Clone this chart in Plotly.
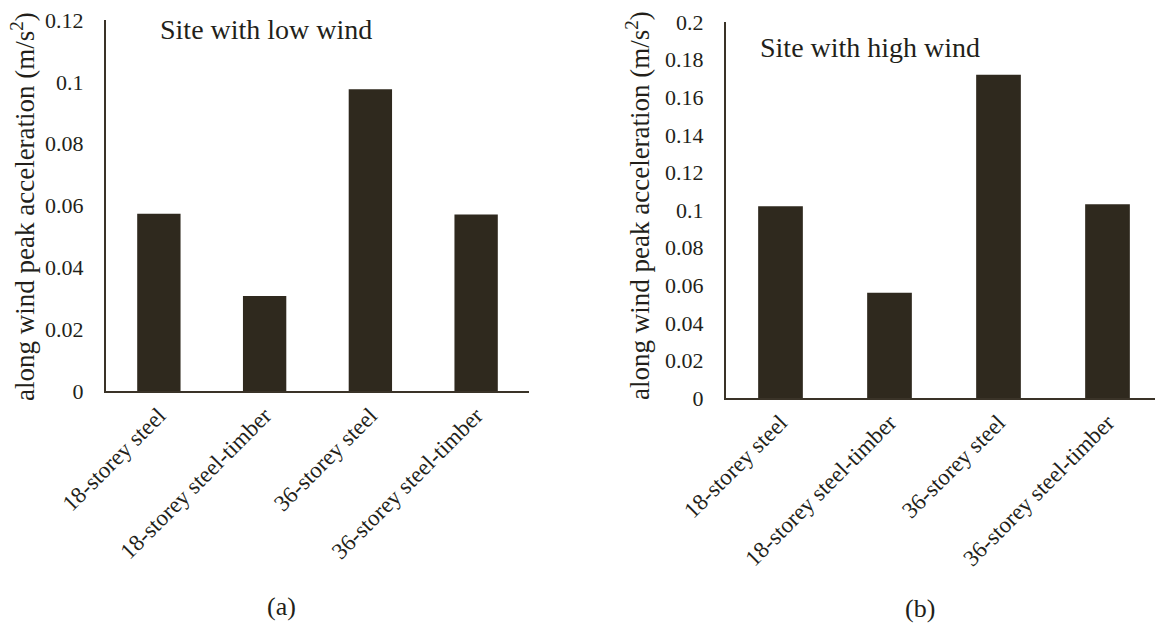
import plotly.graph_objects as go

categories = ["18-storey steel", "18-storey steel-timber", "36-storey steel", "36-storey steel-timber"]
low_wind = [0.0573, 0.0307, 0.0976, 0.0571]
high_wind = [0.102, 0.056, 0.172, 0.103]
low_ticks = [0, 0.02, 0.04, 0.06, 0.08, 0.1, 0.12]
high_ticks = [0, 0.02, 0.04, 0.06, 0.08, 0.1, 0.12, 0.14, 0.16, 0.18, 0.2]

W, H = 1155, 628
BAR = "#2f291e"
LINE = "#3a3328"
TXT = "#231f1a"
FONT = "Liberation Serif, Times New Roman, serif"

fig = go.Figure()
fig.add_trace(go.Bar(x=categories, y=low_wind, marker=dict(color=BAR, line=dict(width=0)),
                     width=0.41, xaxis="x", yaxis="y", showlegend=False))
fig.add_trace(go.Bar(x=categories, y=high_wind, marker=dict(color=BAR, line=dict(width=0)),
                     width=0.41, xaxis="x2", yaxis="y2", showlegend=False))

def px(x):
    return x / W

def py(y):
    return 1 - y / H

common = dict(showgrid=False, zeroline=False, showline=True, linecolor=LINE, linewidth=2,
              ticks="", automargin=False)
ytick_font = dict(family=FONT, size=22, color=TXT)
xtick_font = dict(family=FONT, size=23, color=TXT)

# right panel: category spacing ~109 px, axis runs past the picture edge
right_span = (W - 726) / 109.0

fig.update_layout(
    width=W, height=H,
    margin=dict(l=0, r=0, t=0, b=0),
    paper_bgcolor="white", plot_bgcolor="white",
    font=dict(family=FONT, color=TXT),
    xaxis=dict(domain=[px(106), px(529)], anchor="y", tickangle=-45, tickfont=xtick_font,
               range=[-0.5, 3.5], **common),
    yaxis=dict(domain=[py(391), py(20)], anchor="x", range=[0, 0.12], tickvals=low_ticks,
               ticktext=[f"{v:g}" for v in low_ticks], ticklabelstandoff=16, tickfont=ytick_font, **common),
    xaxis2=dict(domain=[px(726), 1.0], anchor="y2", tickangle=-45, tickfont=xtick_font,
                range=[-0.5, -0.5 + right_span], **common),
    yaxis2=dict(domain=[py(398), py(22)], anchor="x2", range=[0, 0.2], tickvals=high_ticks,
                ticktext=[f"{v:g}" for v in high_ticks], ticklabelstandoff=16, tickfont=ytick_font, **common),
)

ylab = "along wind peak acceleration (m/s<sup>2</sup>)"
annos = [
    dict(x=px(23), y=py(207), text=ylab, textangle=-90, size=27),
    dict(x=px(638), y=py(206), text=ylab, textangle=-90, size=27),
    dict(x=px(266), y=py(29), text="Site with low wind", size=28),
    dict(x=px(870), y=py(48), text="Site with high wind", size=28),
    dict(x=px(281), y=py(606), text="(a)", size=26),
    dict(x=px(920), y=py(608), text="(b)", size=26),
]
for a in annos:
    size = a.pop("size")
    fig.add_annotation(xref="paper", yref="paper", showarrow=False, xanchor="center", yanchor="middle",
                       font=dict(family=FONT, size=size, color=TXT), **a)

fig.write_html("out.html")
